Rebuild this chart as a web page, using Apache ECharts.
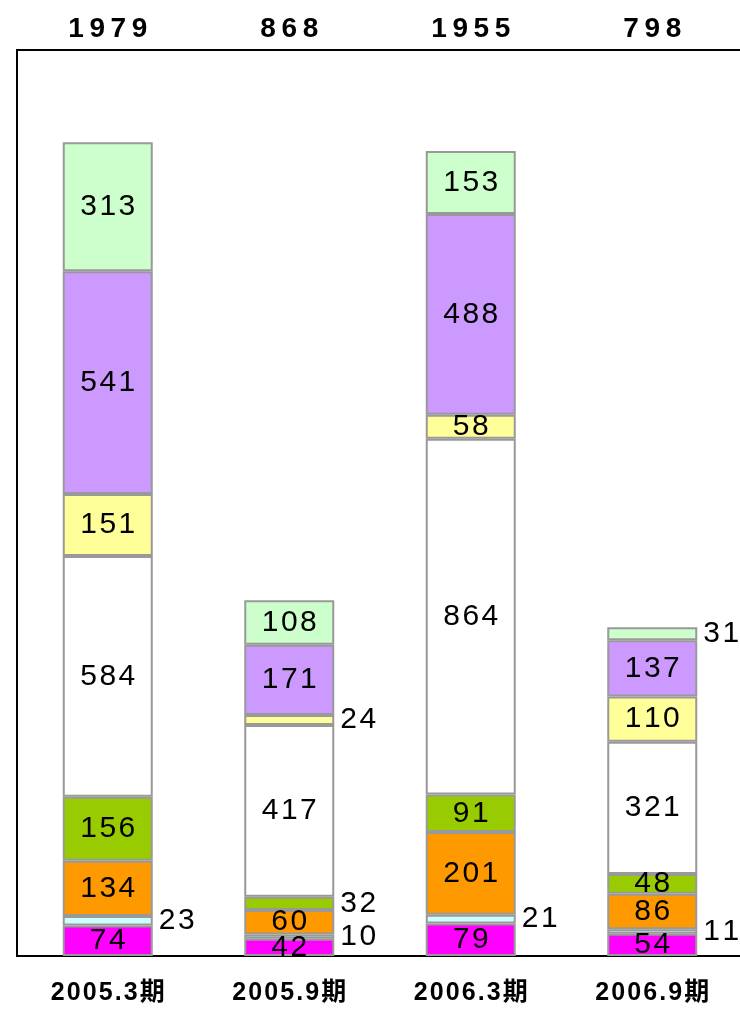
<!DOCTYPE html>
<html>
<head>
<meta charset="utf-8">
<script src="https://cdn.jsdelivr.net/npm/echarts@6/dist/echarts.min.js"></script>
<style>
    html, body { margin: 0; padding: 0; background: #fff; }
    #chart { width: 740px; height: 1009px; }
</style>
</head>
<body>
<div id="chart"></div>
<script type="text/javascript">
    // data
    var categories = ['2005.3期', '2005.9期', '2006.3期', '2006.9期'];
    var totals = [1979, 868, 1955, 798];
    var magenta = [74, 42, 79, 54];
    var cyan = [23, 10, 21, 11];
    var orange = [134, 60, 201, 86];
    var green = [156, 32, 91, 48];
    var white = [584, 417, 864, 321];
    var yellow = [151, 24, 58, 110];
    var purple = [541, 171, 488, 137];
    var lightGreen = [313, 108, 153, 31];

    var layers = [
        ['magenta', magenta, '#ff00ff'],
        ['cyan', cyan, '#ccffff'],
        ['orange', orange, '#ff9900'],
        ['green', green, '#99cc00'],
        ['white', white, '#ffffff'],
        ['yellow', yellow, '#ffff99'],
        ['purple', purple, '#cc99ff'],
        ['lightGreen', lightGreen, '#ccffcc']
    ];

    var numFont = "'Liberation Sans', Arial, sans-serif";
    //字间距
    function spaced(s, sp) { return String(s).split('').join(sp); }

    var series = layers.map(function (l) {
        return {
            name: l[0],
            type: 'bar',
            stack: 'all',
            barWidth: 90,
            itemStyle: { color: l[2], borderColor: '#999999', borderWidth: 2 },
            label: {
                show: true,
                position: 'inside',
                color: '#000',
                fontSize: 30,
                fontFamily: numFont,
                formatter: function (p) { return spaced(p.value, '\u200A'); }
            },
            data: l[1].map(function (v) {
                //小数值放在柱子右侧
                if (v < 40) {
                    return { value: v, label: { position: 'right', distance: 6 } };
                }
                return v;
            })
        };
    });

    var myChart = echarts.init(document.getElementById('chart'));
    myChart.setOption({
        animation: false,
        grid: {
            left: 17, top: 50, width: 726, bottom: 53,
            outerBoundsMode: 'none',
            show: true, borderColor: '#000', borderWidth: 2, backgroundColor: 'transparent'
        },
        xAxis: [
            {
                type: 'category',
                data: categories,
                axisLine: { show: false },
                axisTick: { show: false },
                axisLabel: {
                    margin: 25,
                    fontSize: 25,
                    fontWeight: 'bold',
                    color: '#000',
                    fontFamily: "'Liberation Sans', 'Noto Sans CJK SC', sans-serif",
                    formatter: function (v) { return spaced(v, '\u200A'); }
                }
            },
            {
                type: 'category',
                position: 'top',
                data: totals,
                axisLine: { show: false },
                axisTick: { show: false },
                axisLabel: {
                    margin: 7,
                    fontSize: 28,
                    fontWeight: 'bold',
                    color: '#000',
                    fontFamily: "'Liberation Sans Narrow', 'Arial Narrow', 'Liberation Sans', sans-serif",
                    formatter: function (v) { return spaced(v, '\u2009'); }
                }
            }
        ],
        yAxis: { type: 'value', min: 0, max: 2200, show: false },
        series: series
    });
</script>
</body>
</html>
